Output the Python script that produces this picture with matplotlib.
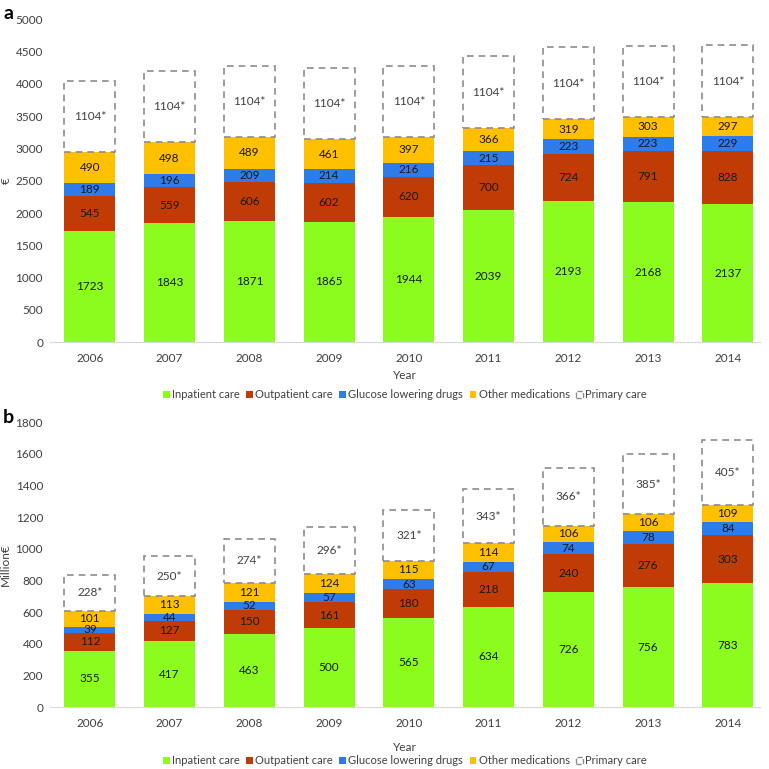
import matplotlib.pyplot as plt
from matplotlib.patches import Patch
import numpy as np

plt.rcParams['font.family'] = ['Lato', 'DejaVu Sans']

years = ['2006', '2007', '2008', '2009', '2010', '2011', '2012', '2013', '2014']

# panel a, per patient (EUR)
inpatient_a = [1723, 1843, 1871, 1865, 1944, 2039, 2193, 2168, 2137]
outpatient_a = [545, 559, 606, 602, 620, 700, 724, 791, 828]
glucose_a = [189, 196, 209, 214, 216, 215, 223, 223, 229]
other_a = [490, 498, 489, 461, 397, 366, 319, 303, 297]
primary_a = [1104, 1104, 1104, 1104, 1104, 1104, 1104, 1104, 1104]

# panel b, total (million EUR)
inpatient_b = [355, 417, 463, 500, 565, 634, 726, 756, 783]
outpatient_b = [112, 127, 150, 161, 180, 218, 240, 276, 303]
glucose_b = [39, 44, 52, 57, 63, 67, 74, 78, 84]
other_b = [101, 113, 121, 124, 115, 114, 106, 106, 109]
primary_b = [228, 250, 274, 296, 321, 343, 366, 385, 405]

labels = ['Inpatient care', 'Outpatient care', 'Glucose lowering drugs',
          'Other medications', 'Primary care']
colors = ['#8cfc1e', '#c13b05', '#2f7bea', '#ffc000']


def draw_panel(ax, series, primary, ymax, ystep, ylabel, xlabelpad, leg_y):
    x = np.arange(len(years))
    w = 0.64
    bottom = np.zeros(len(years))
    for vals, c in zip(series, colors):
        vals = np.array(vals, dtype=float)
        ax.bar(x, vals, w, bottom=bottom, color=c, edgecolor='none')
        for xi, b, v in zip(x, bottom, vals):
            ax.text(xi, b + v / 2, str(int(v)), ha='center', va='center',
                    fontsize=8.5, color='#1a1a1a')
        bottom += vals
    prim = np.array(primary, dtype=float)
    ax.bar(x, prim, w, bottom=bottom, facecolor='white', edgecolor='#8c8c8c',
           linestyle=(0, (4, 3)), linewidth=1.2)
    for xi, b, v in zip(x, bottom, prim):
        ax.text(xi, b + v / 2, str(int(v)) + '*', ha='center', va='center',
                fontsize=8.5, color='#404040')
    ax.set_xlim(-0.5, 8.4)
    ax.set_ylim(0, ymax)
    ax.set_yticks(np.arange(0, ymax + 1, ystep))
    ax.set_xticks(x)
    ax.set_xticklabels(years)
    ax.tick_params(length=0, labelsize=8.5, colors='#404040')
    ax.tick_params(axis='x', pad=8)
    ax.tick_params(axis='y', pad=5)
    for s in ['top', 'right', 'left']:
        ax.spines[s].set_visible(False)
    ax.spines['bottom'].set_color('#d9d9d9')
    ax.set_xlabel('Year', fontsize=8.5, color='#404040', labelpad=xlabelpad)
    ax.set_ylabel(ylabel, fontsize=8.5, color='#404040', labelpad=3)

    handles = [Patch(facecolor=c, edgecolor='none') for c in colors]
    handles.append(Patch(facecolor='white', edgecolor='#8c8c8c', linestyle='--'))
    ax.legend(handles, labels, loc='upper center', bbox_to_anchor=(0.5, leg_y),
              ncol=5, frameon=False, fontsize=8, handlelength=0.6,
              handleheight=0.6, handletextpad=0.2, columnspacing=0.6,
              labelcolor='#404040')


fig = plt.figure(figsize=(7.69, 7.69), dpi=100)
ax1 = fig.add_axes([0.065, 0.555, 0.923, 0.42])
ax2 = fig.add_axes([0.065, 0.0806, 0.923, 0.3706])

draw_panel(ax1, [inpatient_a, outpatient_a, glucose_a, other_a], primary_a,
           5000, 500, '€', 4, -0.115)
draw_panel(ax2, [inpatient_b, outpatient_b, glucose_b, other_b], primary_b,
           1800, 200, 'Million€', 9, -0.135)

fig.text(0.004, 0.983, 'a', fontsize=14, fontweight='bold', va='center')
fig.text(0.004, 0.457, 'b', fontsize=14, fontweight='bold', va='center')

plt.savefig('out.png', dpi=100)
